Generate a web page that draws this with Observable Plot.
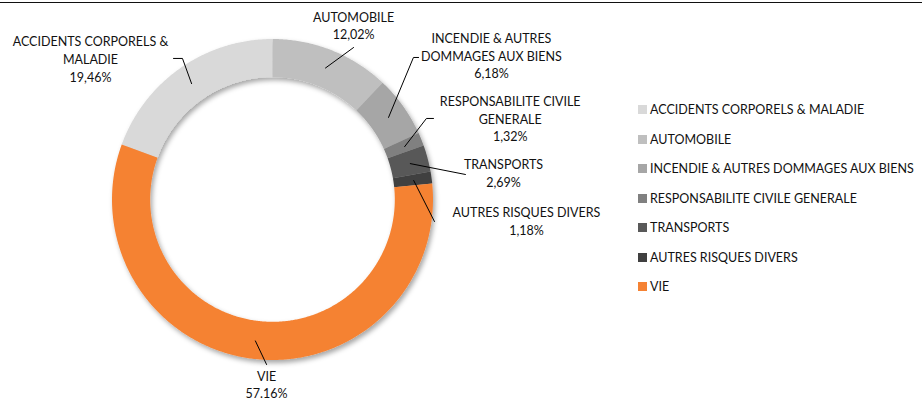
<!DOCTYPE html>
<html><head><meta charset="utf-8">
<script src="https://cdn.jsdelivr.net/npm/d3@7"></script>
<script src="https://cdn.jsdelivr.net/npm/@observablehq/plot@0.6"></script>
<style>
body{margin:0;background:#fff;font-family:Lato,sans-serif;}
#wrap{position:relative;width:922px;height:400px;overflow:hidden;background:#fff;}
#chart{position:absolute;left:0;top:0;}
#topline{position:absolute;left:0;top:2px;width:922px;height:0;border-top:1.5px solid #111;}
#legend{position:absolute;left:638px;top:95px;font-size:12.5px;color:#111;font-family:Lato,sans-serif;}
.item{display:flex;align-items:center;height:29.5px;white-space:nowrap;}
.sw{width:9px;height:9px;margin-right:3px;flex:none;}
</style></head>
<body><div id="wrap"><div id="chart"></div><div id="topline"></div><div id="legend"></div></div>
<script>
// ---- data ----
const categories = ["ACCIDENTS CORPORELS & MALADIE","AUTOMOBILE","INCENDIE & AUTRES DOMMAGES AUX BIENS","RESPONSABILITE CIVILE GENERALE","TRANSPORTS","AUTRES RISQUES DIVERS","VIE"];
const values = [19.46, 12.02, 6.18, 1.32, 2.69, 1.18, 57.16];
const pctText = ["19,46%","12,02%","6,18%","1,32%","2,69%","1,18%","57.16%"];
const labelNames = ["ACCIDENTS CORPORELS &\nMALADIE","AUTOMOBILE","INCENDIE & AUTRES\nDOMMAGES AUX BIENS","RESPONSABILITE CIVILE\nGENERALE","TRANSPORTS","AUTRES RISQUES DIVERS","VIE"];
const colors = ["#d9d9d9","#bfbfbf","#a6a6a6","#808080","#595959","#404040","#f58233"];

// ---- layout (units of outer radius, centre = 0,0) ----
const startAngle = 290;
const innerRatio = 0.762;
const leaderRadius = 0.885;
const labelPos = [[-1.137,0.882],[0.502,1.091],[1.361,0.904],[1.478,0.511],[1.436,0.172],[1.579,-0.127],[-0.040,-1.146]];
const leaderPts = [
  [[-0.620,0.882],[-0.564,0.882]],
  [[0.502,0.950]],
  [[0.907,0.888],[0.875,0.888]],
  [[1.0,0.508],[0.956,0.508]],
  [[1.199,0.159]],
  [[1.006,-0.134]],
  [[-0.040,-1.025]]
];

const total = d3.sum(values);
let acc = startAngle;
const slices = categories.map((c, i) => {
  const a0 = acc, a1 = acc + values[i] / total * 360; acc = a1;
  return {cat: c, i, a0, a1, mid: (a0 + a1) / 2};
});
const rad = a => a * Math.PI / 180;
const ringPts = slices.flatMap(s => {
  const n = Math.max(2, Math.ceil((s.a1 - s.a0) / 0.5));
  return d3.range(n + 1).map(k => {
    const a = rad(s.a0 + (s.a1 - s.a0) * k / n);
    return {cat: s.cat, x1: Math.sin(a), y1: Math.cos(a), x2: innerRatio * Math.sin(a), y2: innerRatio * Math.cos(a)};
  });
});
const leaders = slices.flatMap(s => [
  ...leaderPts[s.i].map(p => ({i: s.i, x: p[0], y: p[1]})),
  {i: s.i, x: leaderRadius * Math.sin(rad(s.mid)), y: leaderRadius * Math.cos(rad(s.mid))}
]);

const plot = Plot.plot({
  width: 922, height: 400, margin: 0,
  x: {domain: [-1, 1], range: [112, 433], axis: null},
  y: {domain: [-1, 1], range: [360, 39], axis: null},
  color: {domain: categories, range: colors},
  marks: [
    Plot.area(ringPts, {x1: "x1", y1: "y1", x2: "x2", y2: "y2", z: "cat", fill: "cat", curve: "linear"}),
    Plot.line(leaders, {x: "x", y: "y", z: "i", stroke: "#000", strokeWidth: 1}),
    Plot.text(slices, {x: d => labelPos[d.i][0], y: d => labelPos[d.i][1], text: d => labelNames[d.i] + "\n" + pctText[d.i],
      lineHeight: 1.42, fontSize: 12.5, fontFamily: "Lato", fill: "#111", textAnchor: "middle"})
  ]
});
// drop shadow like the original
const ns = "http://www.w3.org/2000/svg";
const defs = document.createElementNS(ns, "defs");
defs.innerHTML = '<filter id="shadow" x="-20%" y="-20%" width="140%" height="140%"><feDropShadow dx="2" dy="3" stdDeviation="2.5" flood-color="#000" flood-opacity="0.35"/></filter>';
plot.insertBefore(defs, plot.firstChild);
const areaG = plot.querySelector('g[aria-label="area"]');
if (areaG) areaG.setAttribute("filter", "url(#shadow)");
document.getElementById("chart").appendChild(plot);

// legend
const leg = d3.select("#legend");
categories.forEach((c, i) => {
  const it = leg.append("div").attr("class", "item");
  it.append("div").attr("class", "sw").style("background", colors[i]);
  it.append("span").text(c);
});
</script></body></html>
